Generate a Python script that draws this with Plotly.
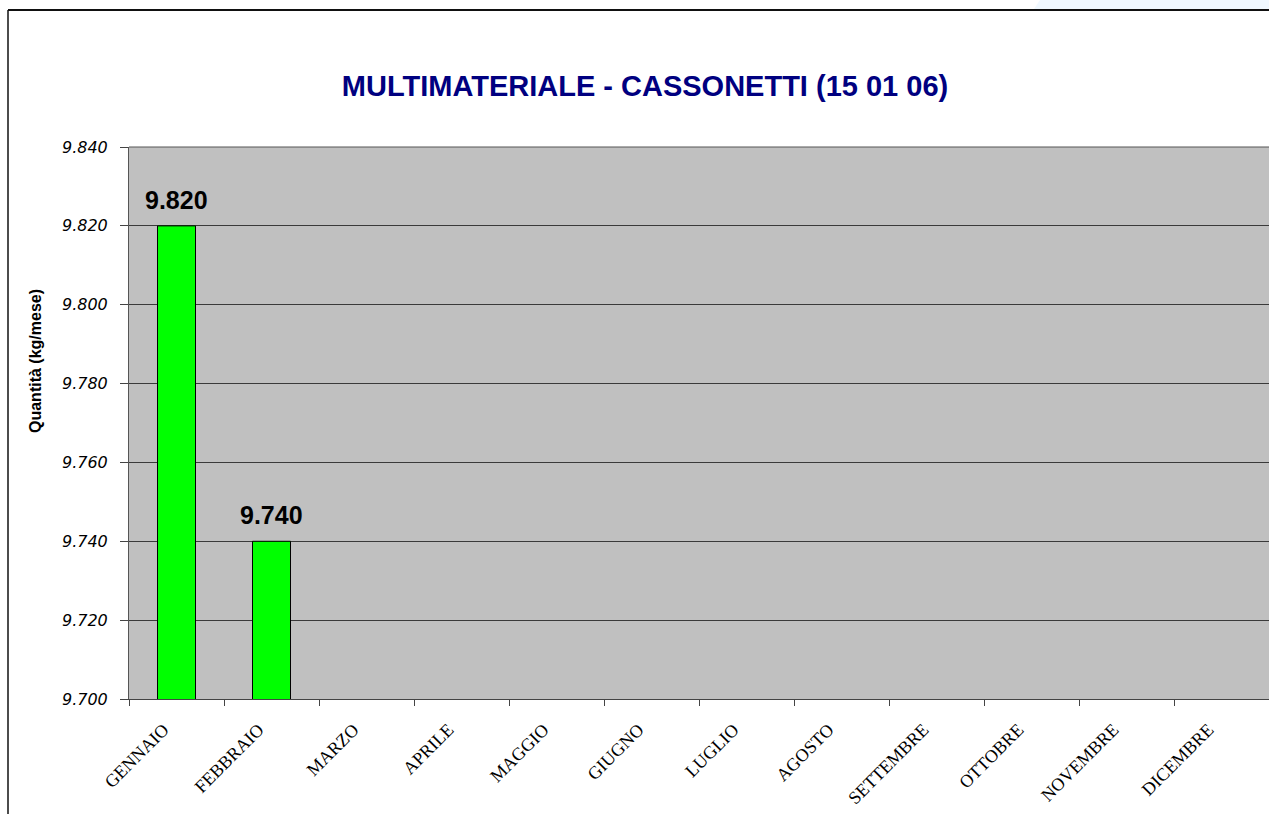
import plotly.graph_objects as go

months = ["GENNAIO", "FEBBRAIO", "MARZO", "APRILE", "MAGGIO", "GIUGNO",
          "LUGLIO", "AGOSTO", "SETTEMBRE", "OTTOBRE", "NOVEMBRE", "DICEMBRE"]
values = [9820, 9740, None, None, None, None, None, None, None, None, None, None]
labels = ["9.820", "9.740", "", "", "", "", "", "", "", "", "", ""]
y_ticks = [9700, 9720, 9740, 9760, 9780, 9800, 9820, 9840]
y_tick_text = ["9.700", "9.720", "9.740", "9.760", "9.780", "9.800", "9.820", "9.840"]

W, H = 1269, 814
L, R, T, B = 129, 0, 147, 115
pw, ph = W - L - R, H - T - B

def px(x):
    return (x - L) / pw

def py(y):
    return (H - B - y) / ph

fig = go.Figure()
fig.add_trace(go.Bar(
    x=months, y=values, width=0.4,
    marker=dict(color="#00FF00", line=dict(color="#000000", width=1)),
))

for m, v, t in zip(months, values, labels):
    if v is not None:
        fig.add_annotation(x=m, y=v, text=f"<b>{t}</b>", showarrow=False,
                           yanchor="bottom", yshift=10,
                           font=dict(family="Liberation Sans, Arial", size=25, color="#000000"))

# y-axis title (Excel places it slightly above the plot centre)
fig.add_annotation(xref="paper", yref="paper", x=px(35), y=py(361),
                   text="<b>Quantità (kg/mese)</b>", textangle=-90, showarrow=False,
                   xanchor="center", yanchor="middle",
                   font=dict(family="Liberation Sans, Arial", size=16, color="#000000"))

fig.update_layout(
    width=W, height=H,
    margin=dict(l=L, r=R, t=T, b=B),
    paper_bgcolor="#FFFFFF",
    plot_bgcolor="#C0C0C0",
    showlegend=False,
    title=dict(text="<b>MULTIMATERIALE - CASSONETTI (15 01 06)</b>",
               x=645 / W, xanchor="center", y=1 - 86 / H, yanchor="middle",
               font=dict(family="Liberation Sans, Arial", size=29, color="#000080")),
    xaxis=dict(
        type="category", categoryorder="array", categoryarray=months,
        tickson="boundaries", ticks="outside", ticklen=6, tickcolor="#444444",
        tickangle=-45, showgrid=False, showline=True, linecolor="#444444", linewidth=1,
        ticklabelstandoff=12, ticklabelshift=-13,
        tickfont=dict(family="Liberation Serif, Times New Roman", size=18, color="#000000"),
        range=[-0.5, 11.5],
    ),
    yaxis=dict(
        range=[9700, 9840], tickvals=y_ticks, ticktext=y_tick_text,
        ticks="outside", ticklen=8, tickcolor="#444444",
        ticklabelstandoff=9,
        showgrid=True, gridcolor="#3a3a3a", gridwidth=1,
        showline=True, linecolor="#555555", linewidth=1, mirror=False,
        zeroline=False,
        tickfont=dict(family="DejaVu Sans, Verdana", size=16, color="#000000", style="italic"),
    ),
    shapes=[
        dict(type="line", xref="paper", yref="paper", x0=0, x1=1, y0=1, y1=1,
             line=dict(color="#555555", width=1)),
        dict(type="path", xref="paper", yref="paper",
             path=f"M {px(1034)} {py(9)} L {px(1040)} {py(0)} L {px(1269)} {py(0)} L {px(1269)} {py(9)} Z",
             fillcolor="#F0F8FF", line=dict(width=0), layer="below"),
        dict(type="line", xref="paper", yref="paper", x0=px(8), x1=px(1269), y0=py(10), y1=py(10),
             line=dict(color="#111111", width=2)),
        dict(type="line", xref="paper", yref="paper", x0=px(8), x1=px(8), y0=py(10), y1=py(814),
             line=dict(color="#111111", width=1.5)),
    ],
)

fig.write_html("out.html", config={"displayModeBar": False},
               post_script="document.body.style.margin='0';document.body.style.overflow='hidden';")
